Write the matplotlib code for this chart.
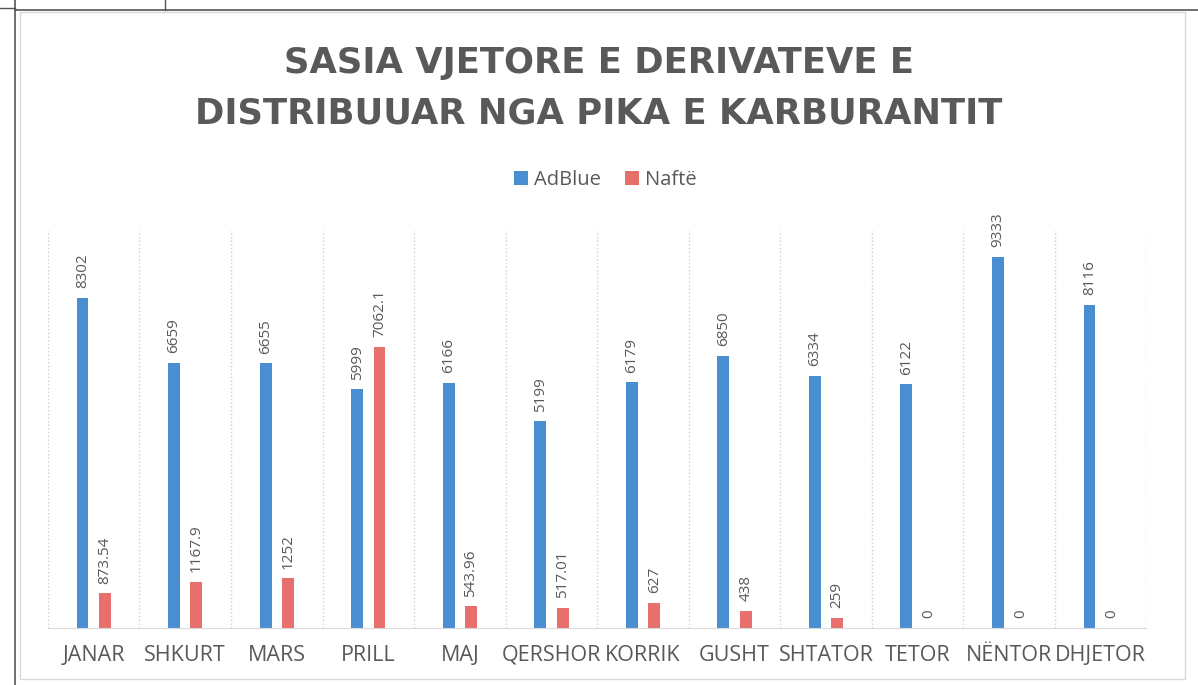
import numpy as np
import matplotlib.pyplot as plt
from matplotlib.lines import Line2D
from matplotlib.patches import Rectangle

months = ['JANAR', 'SHKURT', 'MARS', 'PRILL', 'MAJ', 'QERSHOR',
          'KORRIK', 'GUSHT', 'SHTATOR', 'TETOR', 'NËNTOR', 'DHJETOR']
adblue = [8302, 6659, 6655, 5999, 6166, 5199, 6179, 6850, 6334, 6122, 9333, 8116]
nafte = [873.54, 1167.9, 1252, 7062.1, 543.96, 517.01, 627, 438, 259, 0, 0, 0]
adblue_labels = ['8302', '6659', '6655', '5999', '6166', '5199',
                 '6179', '6850', '6334', '6122', '9333', '8116']
nafte_labels = ['873.54', '1167.9', '1252', '7062.1', '543.96', '517.01',
                '627', '438', '259', '0', '0', '0']

plt.rcParams['font.family'] = ['Open Sans', 'DejaVu Sans']
text_col = '#595959'
blue = '#4a8ed2'
red = '#e8706c'

fig = plt.figure(figsize=(11.98, 6.85), dpi=100)
ax = fig.add_axes([0.040, 0.083, 0.917, 0.581])

x = np.arange(len(months))
w = 0.13
off = 0.122
b1 = ax.bar(x - off, adblue, w, color=blue, label='AdBlue')
b2 = ax.bar(x + off, nafte, w, color=red, label='Naftë')

for bars, labs in [(b1, adblue_labels), (b2, nafte_labels)]:
    for rect, lab in zip(bars, labs):
        ax.annotate(lab, xy=(rect.get_x() + rect.get_width() / 2, rect.get_height()),
                    xytext=(0, 7), textcoords='offset points',
                    rotation=90, ha='center', va='bottom',
                    fontsize=11, color=text_col)

ax.set_xlim(-0.5, len(months) - 0.5)
ax.set_ylim(0, 10000)
ax.set_xticks(x)
ax.set_xticklabels(months, fontsize=15.5, color=text_col)
ax.set_xticks(np.arange(-0.5, len(months)), minor=True)
ax.tick_params(axis='x', which='both', length=0, pad=12)
ax.set_yticks([])
ax.grid(which='minor', axis='x', linestyle=':', color='#d0d0d0', linewidth=1)
for s in ['top', 'left', 'right']:
    ax.spines[s].set_visible(False)
ax.spines['bottom'].set_color('#d9d9d9')
ax.set_axisbelow(True)

title_font = dict(ha='center', va='center', fontsize=25.5, fontweight='bold',
                  color=text_col, family='DejaVu Sans')
fig.text(0.5, 1 - 63 / 685, 'SASIA VJETORE E DERIVATEVE E', **title_font)
fig.text(0.5, 1 - 113 / 685, 'DISTRIBUUAR NGA PIKA E KARBURANTIT', **title_font)

fig.legend(loc='center', bbox_to_anchor=(605 / 1198, 1 - 180 / 685), ncol=2, frameon=False,
           fontsize=14.5, handlelength=0.7, handleheight=0.7, handletextpad=0.3,
           columnspacing=1.2, labelcolor=text_col)

# scanned page / chart frame
fig.add_artist(Rectangle((20 / 1198, 1 - 679 / 685), 1165 / 1198, 667 / 685,
                         transform=fig.transFigure, fill=False, edgecolor='#d9d9d9', lw=1))
fig.add_artist(Line2D([15 / 1198, 1], [1 - 10 / 685, 1 - 10 / 685], color='#555555', lw=1.2))
fig.add_artist(Line2D([0, 15 / 1198], [1 - 8 / 685, 1 - 8 / 685], color='#555555', lw=1))
fig.add_artist(Line2D([15 / 1198, 15 / 1198], [0, 1], color='#555555', lw=1.2))
fig.add_artist(Line2D([165 / 1198, 165 / 1198], [1 - 10 / 685, 1], color='#555555', lw=1))

fig.savefig('out.png', dpi=100)
